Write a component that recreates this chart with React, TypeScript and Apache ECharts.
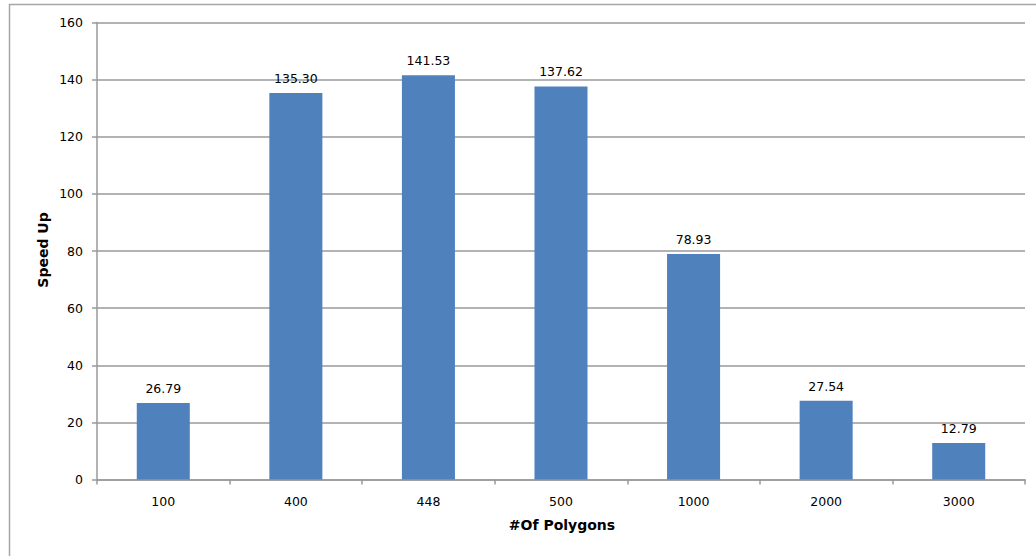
import React, { useEffect, useRef } from "react";
import * as echarts from "echarts";

const categories = ["100", "400", "448", "500", "1000", "2000", "3000"];
const speedUp = [26.79, 135.3, 141.53, 137.62, 78.93, 27.54, 12.79];
const yTicks = { min: 0, max: 160, interval: 20 };

const FONT = "DejaVu Sans";
const AXIS_GRAY = "#9a9a9a";

export default function App() {
  const ref = useRef<HTMLDivElement>(null);

  useEffect(() => {
    const chart = echarts.init(ref.current!, null, { renderer: "svg" });
    chart.setOption({
      animation: false,
      backgroundColor: "#ffffff",
      textStyle: { fontFamily: FONT },
      graphic: [
        {
          type: "rect",
          shape: { x: 9.5, y: 4.5, width: 1100, height: 600 },
          style: { fill: "none", stroke: "#a6a6a6", lineWidth: 1.5 },
          silent: true,
        },
        {
          type: "text",
          x: 43,
          y: 250,
          rotation: Math.PI / 2,
          style: {
            text: "Speed Up",
            fontFamily: FONT,
            fontSize: 14,
            fontWeight: "bold",
            fill: "#000",
            align: "center",
            verticalAlign: "middle",
          },
        },
        {
          type: "text",
          x: 562,
          y: 525,
          style: {
            text: "#Of Polygons",
            fontFamily: FONT,
            fontSize: 14,
            fontWeight: "bold",
            fill: "#000",
            align: "center",
            verticalAlign: "middle",
          },
        },
      ],
      grid: { left: 97, right: 11, top: 22.5, bottom: 76.5, containLabel: false },
      xAxis: {
        type: "category",
        data: categories,
        axisLine: { lineStyle: { color: AXIS_GRAY, width: 1.5 } },
        axisTick: { show: true, length: 5, lineStyle: { color: AXIS_GRAY, width: 1.5 } },
        axisLabel: { color: "#000", fontSize: 12.5, fontFamily: FONT, margin: 15 },
        splitLine: { show: false },
      },
      yAxis: {
        type: "value",
        min: yTicks.min,
        max: yTicks.max,
        interval: yTicks.interval,
        axisLine: { show: true, lineStyle: { color: AXIS_GRAY, width: 1.5 } },
        axisTick: { show: true, length: 5, lineStyle: { color: AXIS_GRAY, width: 1.5 } },
        axisLabel: { color: "#000", fontSize: 12.5, fontFamily: FONT, margin: 14 },
        splitLine: { show: true, lineStyle: { color: AXIS_GRAY, width: 1.5 } },
      },
      series: [
        {
          type: "bar",
          data: speedUp,
          barWidth: "40%",
          itemStyle: { color: "#4f81bd" },
          label: {
            show: true,
            position: "top",
            distance: 8,
            color: "#000",
            fontSize: 12.5,
            fontFamily: FONT,
            formatter: (p: any) => p.value.toFixed(2),
          },
        },
      ],
    });
    return () => chart.dispose();
  }, []);

  return (
    <div
      ref={ref}
      style={{ position: "absolute", left: 0, top: 0, width: 1036, height: 556 }}
    />
  );
}
